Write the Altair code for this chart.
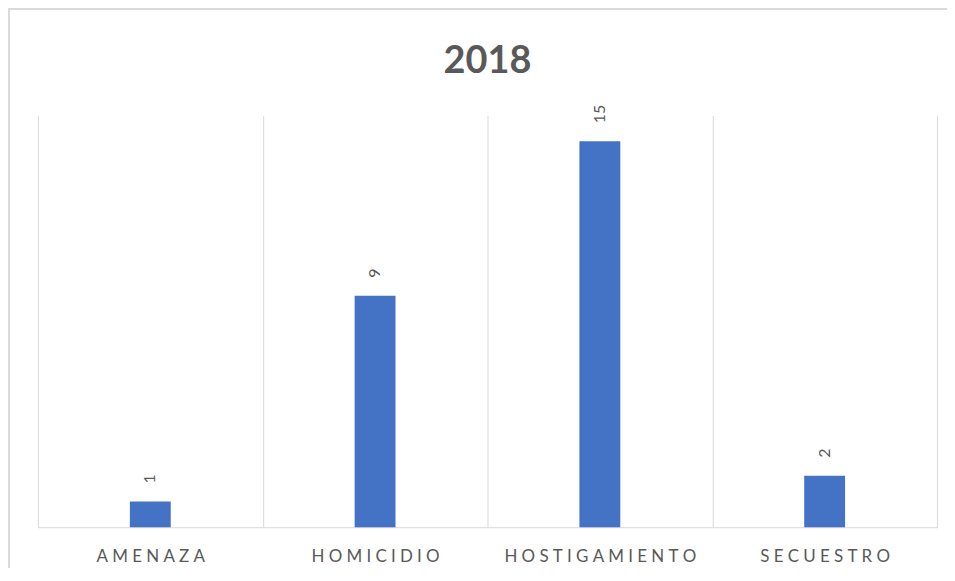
import altair as alt
import pandas as pd

categories = ["AMENAZA", "HOMICIDIO", "HOSTIGAMIENTO", "SECUESTRO"]
values = [1, 9, 15, 2]

df = pd.DataFrame({"categoria": categories, "valor": values})

GREY = "#595959"
GRID = "#d9d9d9"

x_enc = alt.X(
    "categoria:N",
    sort=categories,
    title=None,
    scale=alt.Scale(paddingInner=0, paddingOuter=0),
    axis=alt.Axis(
        grid=True,
        gridColor=GRID,
        gridWidth=1,
        tickBand="extent",
        ticks=False,
        domain=True,
        domainColor=GRID,
        labelAngle=0,
        labelFont="Lato",
        labelFontSize=17,
        labelColor=GREY,
        labelPadding=21,
        labelLimit=0,
        labelExpr="join(split(datum.label, ''), '\u2005')",
    ),
)
y_enc = alt.Y(
    "valor:Q",
    title=None,
    scale=alt.Scale(domain=[0, 16], nice=False),
    axis=None,
)

bars = alt.Chart(df).mark_bar(size=41, color="#4472C4").encode(x=x_enc, y=y_enc)

labels = alt.Chart(df).mark_text(
    angle=270,
    align="left",
    baseline="middle",
    dx=18,
    font="Lato",
    fontSize=16,
    color=GREY,
).encode(x=x_enc, y=y_enc, text="valor:Q")

border_top = alt.Chart(df).mark_rule(color=GRID, strokeWidth=1.5).encode(
    x=alt.value(-30), x2=alt.value(930), y=alt.value(-107)
)
border_left = alt.Chart(df).mark_rule(color=GRID, strokeWidth=1.5).encode(
    x=alt.value(-29), y=alt.value(-107), y2=alt.value(480)
)

chart = (
    alt.layer(border_top, border_left, bars, labels)
    .properties(
        width=902,
        height=413,
        padding={"left": 30, "top": 107, "right": 10, "bottom": 40},
        autosize=alt.AutoSizeParams(type="none"),
        title=alt.TitleParams(
            "2018",
            font="Lato",
            fontSize=38,
            fontWeight="bold",
            color=GREY,
            anchor="middle",
            offset=-73,
        ),
    )
    .configure_view(stroke=None)
)

chart.save("out.html", embed_options={"renderer": "svg", "actions": False})
